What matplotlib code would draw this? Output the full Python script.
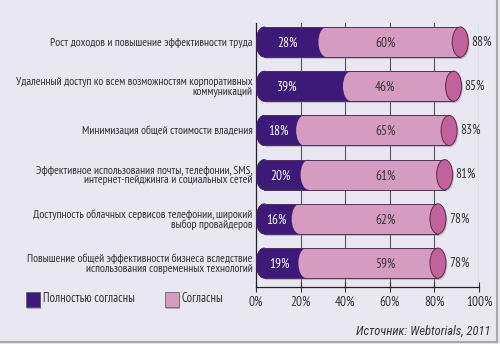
import matplotlib
matplotlib.use("Agg")
import numpy as np
from matplotlib import pyplot as plt
from matplotlib.patches import Rectangle, Ellipse
from matplotlib.lines import Line2D

plt.rcParams['font.family'] = ['PT Sans Narrow', 'Roboto Condensed', 'Liberation Sans', 'DejaVu Sans']

categories = [
    "Рост доходов и повышение эффективности труда",
    "Удаленный доступ ко всем возможностям корпоративных\nкоммуникаций",
    "Минимизация общей стоимости владения",
    "Эффективное использования почты, телефонии, SMS,\nинтернет-пейджинга и социальных сетей",
    "Доступность облачных сервисов телефонии, широкий\nвыбор провайдеров",
    "Повышение общей эффективности бизнеса вследствие\nиспользования современных технологий",
]
fully_agree = [28, 39, 18, 20, 16, 19]
agree = [60, 46, 65, 61, 62, 59]
totals = [88, 85, 83, 81, 78, 78]
legend_labels = ["Полностью согласны", "Согласны"]
xticks = [0, 20, 40, 60, 80, 100]
source = "Источник: Webtorials, 2011"

bg = '#e9e7f1'
c_dark = '#3e1a78'
c_pink = '#d69bc0'
c_cap = '#c2629b'
c_text = '#333333'

fig = plt.figure(figsize=(5.0, 3.44), dpi=100, facecolor=bg)
ax = fig.add_axes([256/500, 57/344, 223/500, 264/344])
ax.set_facecolor(bg)
ax.set_xlim(0, 100)
ax.set_ylim(5.54, -0.43)

h = 0.68          # bar height in category units
d = 3.6           # half width of end ellipse in % units

for x in xticks[1:]:
    ax.axvline(x, color='#555555', lw=0.8, zorder=1)

for i in range(len(categories)):
    v1 = fully_agree[i]
    tot = totals[i]
    # shadow
    ax.add_patch(Rectangle((d + 0.6, i - h/2 + 0.04), tot, h, color='#9a92a8', alpha=0.5, lw=0, zorder=2))
    ax.add_patch(Ellipse((d + tot + 0.6, i + 0.04), 2*d, h, color='#9a92a8', alpha=0.5, lw=0, zorder=2))
    # dark segment
    ax.add_patch(Ellipse((d, i), 2*d, h, facecolor=c_dark, edgecolor='#3a2060', lw=0.6, zorder=3))
    ax.add_patch(Rectangle((d, i - h/2), v1, h, facecolor=c_dark, lw=0, zorder=3))
    # pink segment
    ax.add_patch(Rectangle((d + v1, i - h/2), tot - v1, h, facecolor=c_pink, lw=0, zorder=4))
    ax.add_patch(Ellipse((d + v1, i), 2*d, h, facecolor=c_pink, lw=0, zorder=4))
    ax.plot([d, d + tot], [i - h/2, i - h/2], color='#4a3458', lw=0.7, zorder=5)
    ax.plot([d, d + tot], [i + h/2, i + h/2], color='#4a3458', lw=0.7, zorder=5)
    # end cap
    ax.add_patch(Ellipse((d + tot, i), 2*d, h, facecolor=c_cap, edgecolor='#5a2a50', lw=0.7, zorder=6))
    # labels
    ax.text(min(v1/2 + 1, 14), i + 0.03, f"{v1}%", color='white', fontsize=9.5,
            ha='center', va='center', zorder=7)
    ax.text(58, i + 0.03, f"{agree[i]}%", color=c_text, fontsize=9.5,
            ha='center', va='center', zorder=7)
    ax.text(tot + 8.5, i, f"{tot}%", color=c_text, fontsize=9.5,
            ha='left', va='center', zorder=7)

ax.set_yticks(range(len(categories)))
ax.set_yticklabels(categories, fontsize=8.4, color=c_text, linespacing=0.95)
ax.tick_params(axis='y', length=0, pad=2.5)
ax.set_xticks(xticks)
ax.set_xticklabels([f"{x}%" for x in xticks], fontsize=9.5, color=c_text)
ax.tick_params(axis='x', direction='inout', length=7, width=0.8, pad=3, color='#333333')
for s in ['top', 'right']:
    ax.spines[s].set_visible(False)
ax.spines['left'].set_color('#222222')
ax.spines['bottom'].set_color('#222222')
ax.spines['left'].set_linewidth(0.9)
ax.spines['bottom'].set_linewidth(0.9)

# legend
W, H = 500.0, 344.0
for (lx, col, lab) in [(26, c_dark, legend_labels[0]), (165, c_pink, legend_labels[1])]:
    fig.patches.append(Rectangle((lx/W + 1/W, (H - 308)/H - 1/H), 14/W, 15/H, transform=fig.transFigure,
                                 facecolor='#8a8098', lw=0, alpha=0.6))
    fig.patches.append(Rectangle((lx/W, (H - 307)/H), 14/W, 15/H, transform=fig.transFigure,
                                 facecolor=col, edgecolor='#555555', lw=0.5))
    fig.text((lx + 17)/W, (H - 299)/H, lab, fontsize=9, color=c_text, ha='left', va='center')

fig.text(491/W, (H - 331)/H, source, fontsize=9, style='italic', color=c_text,
         family=['Roboto Condensed', 'Liberation Sans'], ha='right', va='center')

# frame shadow
fig.add_artist(Line2D([497/W, 497/W], [(H - 342)/H, 1], transform=fig.transFigure,
                      color='#a8a8a8', lw=1.5))
fig.add_artist(Line2D([0, 497/W], [(H - 342)/H, (H - 342)/H], transform=fig.transFigure,
                      color='#a8a8a8', lw=1.5))

fig.savefig("out.png", dpi=100, facecolor=bg)
